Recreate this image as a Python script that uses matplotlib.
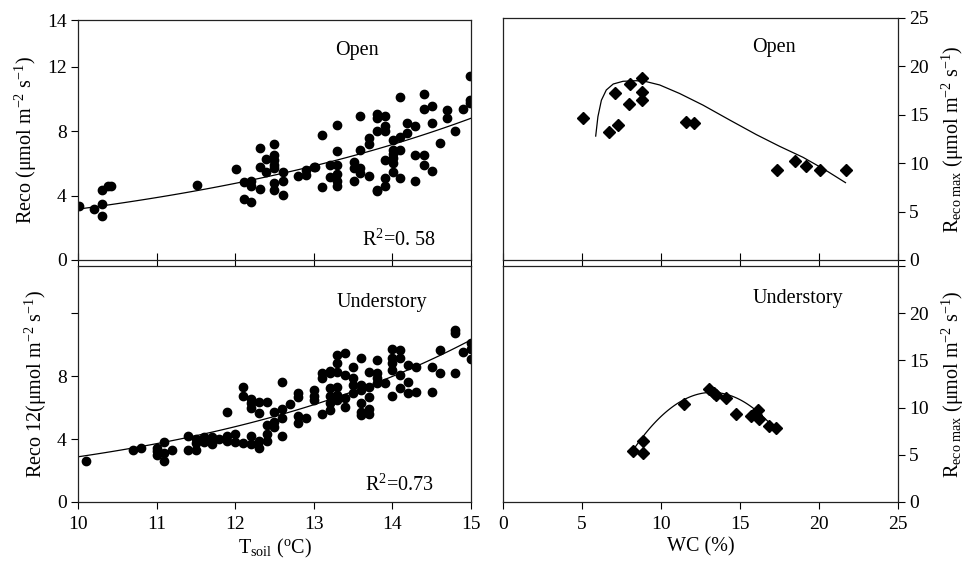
import numpy as np
import matplotlib
matplotlib.use("Agg")
import matplotlib.pyplot as plt

plt.rcParams["font.family"] = ["Liberation Serif", "DejaVu Serif"]
plt.rcParams["mathtext.fontset"] = "custom"
plt.rcParams["mathtext.rm"] = "Liberation Serif"
plt.rcParams["mathtext.it"] = "Liberation Serif:italic"
plt.rcParams["font.size"] = 14

# --- data ---
# open site, Reco vs Tsoil
open_t = [10.01, 10.2, 10.31, 10.31, 10.31, 10.38, 10.42, 11.51, 12.01, 12.11, 12.11, 12.2, 12.2, 12.2,
          12.31, 12.31, 12.31, 12.39, 12.39, 12.5, 12.5, 12.5, 12.5, 12.5, 12.5, 12.5, 12.61, 12.61, 12.61,
          12.8, 12.9, 12.9, 13.0, 13.02, 13.1, 13.1, 13.2, 13.2, 13.3, 13.3, 13.3, 13.3, 13.3, 13.3,
          13.51, 13.51, 13.51, 13.59, 13.59, 13.59, 13.59, 13.7, 13.7, 13.7, 13.8, 13.8, 13.8, 13.8, 13.81,
          13.9, 13.9, 13.9, 13.9, 13.9, 13.9, 14.01, 14.01, 14.01, 14.01, 14.01, 14.01, 14.1, 14.1, 14.1,
          14.1, 14.19, 14.19, 14.29, 14.29, 14.29, 14.4, 14.4, 14.4, 14.4, 14.5, 14.5, 14.5, 14.6, 14.7,
          14.7, 14.8, 14.9, 14.99, 14.99, 14.99]
open_r = [3.36, 3.18, 4.36, 3.49, 2.74, 4.57, 4.57, 4.65, 5.65, 4.84, 3.78, 3.59, 4.57, 4.88,
          6.98, 5.81, 4.40, 6.27, 5.46, 7.22, 6.54, 6.23, 5.92, 5.71, 4.77, 4.32, 5.50, 4.94, 4.05,
          5.25, 5.60, 5.29, 5.77, 5.77, 7.74, 4.53, 5.92, 5.13, 8.41, 6.75, 5.92, 5.34, 4.88, 4.63,
          6.08, 5.71, 4.94, 8.97, 6.85, 5.71, 5.40, 7.58, 7.22, 5.25, 9.09, 8.82, 7.99, 4.32, 4.28,
          8.97, 8.35, 7.99, 6.23, 5.09, 4.57, 7.47, 6.85, 6.60, 6.33, 6.02, 5.46, 10.11, 7.64, 6.85,
          5.09, 8.51, 7.89, 8.35, 6.54, 4.94, 10.32, 9.40, 6.54, 5.92, 9.59, 8.51, 5.54, 7.27, 9.34,
          8.82, 7.99, 9.40, 11.46, 9.96, 9.76]

# understory, Reco 12 vs Tsoil
und_t = [10.1, 10.7, 10.8, 11.0, 11.0, 11.0, 11.1, 11.1, 11.1, 11.2, 11.4, 11.4, 11.5, 11.5, 11.5,
         11.6, 11.6, 11.7, 11.7, 11.7, 11.8, 11.9, 11.9, 11.9, 12.0, 12.0, 12.1, 12.1, 12.1,
         12.2, 12.2, 12.2, 12.2, 12.2, 12.3, 12.3, 12.3, 12.3, 12.4, 12.4, 12.4, 12.4,
         12.5, 12.5, 12.5, 12.6, 12.6, 12.6, 12.6, 12.7, 12.8, 12.8, 12.8, 12.8, 12.9,
         13.0, 13.0, 13.0, 13.1, 13.1, 13.1, 13.2, 13.2, 13.2, 13.2, 13.2, 13.2,
         13.3, 13.3, 13.3, 13.3, 13.3, 13.3, 13.4, 13.4, 13.4, 13.4, 13.5, 13.5, 13.5, 13.5,
         13.6, 13.6, 13.6, 13.6, 13.6, 13.6, 13.7, 13.7, 13.7, 13.7, 13.7, 13.8, 13.8, 13.8, 13.8,
         13.9, 14.0, 14.0, 14.0, 14.0, 14.0, 14.1, 14.1, 14.1, 14.1, 14.2, 14.2, 14.2, 14.3, 14.3,
         14.5, 14.5, 14.6, 14.6, 14.8, 14.8, 14.8, 14.9, 15.0, 15.0, 15.0]
und_r = [2.59, 3.29, 3.44, 3.44, 3.23, 3.01, 3.82, 3.12, 2.59, 3.29, 4.20, 3.33, 4.03, 3.72, 3.29,
         4.14, 3.82, 4.14, 3.82, 3.67, 3.99, 5.73, 4.20, 3.89, 4.35, 3.78, 7.28, 6.73, 3.72,
         6.52, 6.26, 5.99, 4.20, 3.67, 6.37, 5.63, 3.89, 3.46, 6.37, 4.88, 4.35, 3.89,
         5.73, 5.10, 4.78, 7.64, 5.94, 5.31, 4.20, 6.20, 6.90, 6.69, 5.46, 5.03, 5.31,
         7.11, 6.73, 6.48, 8.22, 7.86, 5.56, 8.32, 8.17, 7.22, 6.73, 6.26, 5.84,
         9.34, 8.81, 8.28, 7.32, 6.79, 6.48, 9.45, 8.07, 6.58, 6.05, 8.60, 7.86, 7.43, 6.94,
         9.13, 7.43, 7.11, 6.31, 5.73, 5.52, 8.28, 7.32, 6.69, 5.94, 5.58, 9.02, 8.17, 7.86, 7.58,
         7.54, 9.70, 9.13, 8.81, 8.39, 6.73, 9.66, 9.13, 8.07, 7.22, 8.70, 7.64, 6.90, 8.56, 7.01,
         8.60, 7.01, 9.66, 8.17, 10.93, 10.72, 8.17, 9.55, 10.08, 9.72, 9.07]

# exponential fits y = a*exp(b*T)
open_fit = (0.407, 0.205)
und_fit = (0.2228, 0.2556)

# Reco max vs water content
open_wc = [5.04, 6.69, 7.12, 7.31, 7.97, 8.05, 8.79, 8.79, 8.79, 11.6, 12.1, 17.37, 18.5, 19.17, 20.04, 21.72]
open_rmax = [14.67, 13.23, 17.25, 13.92, 16.08, 18.21, 18.83, 17.35, 16.56, 14.26, 14.16, 9.28, 10.21, 9.73, 9.28, 9.28]
open_curve_x = [5.87, 6.01, 6.23, 6.54, 6.98, 7.6, 8.44, 9.08, 9.92, 11.18, 12.66, 14.35, 16.04, 17.5, 19.0, 20.4, 21.68]
open_curve_y = [12.8, 14.8, 16.5, 17.56, 18.18, 18.46, 18.52, 18.42, 18.08, 17.2, 16.0, 14.46, 12.95, 11.75, 10.6, 9.3, 7.99]

und_wc = [8.24, 8.88, 8.88, 11.48, 13.03, 13.35, 13.5, 14.09, 14.72, 15.68, 16.14, 16.04, 16.2, 16.84, 17.27]
und_rmax = [5.40, 5.23, 6.49, 10.42, 12.0, 11.54, 11.3, 11.02, 9.30, 9.09, 9.72, 9.19, 8.84, 8.04, 7.79]
und_quad = (-31.32, 6.49, -0.2453)  # a + b*x + c*x^2
und_range = (8.24, 17.4)

fig = plt.figure(figsize=(9.65, 5.62), dpi=100)
ax1 = fig.add_axes([0.0808, 0.5374, 0.4073, 0.427])
ax2 = fig.add_axes([0.0808, 0.1068, 0.4073, 0.42])
ax3 = fig.add_axes([0.5212, 0.5374, 0.4093, 0.4306])
ax4 = fig.add_axes([0.5212, 0.1068, 0.4093, 0.42])

dot = dict(ls="none", marker="o", ms=6, color="black")
dia = dict(ls="none", marker="D", ms=6.5, color="black")
fs = 14.5

# top left
ax1.plot(open_t, open_r, **dot)
tt = np.linspace(10, 15, 100)
ax1.plot(tt, open_fit[0] * np.exp(open_fit[1] * tt), color="black", lw=0.9)
ax1.set_xlim(10, 15)
ax1.set_ylim(0, 14.92)
ax1.set_yticks([0, 4, 8, 12, 14.92], labels=["0", "4", "8", "12", "14"])
ax1.set_xticks([10, 11, 12, 13, 14, 15], labels=[])
ax1.set_ylabel(r"Reco ($\mathrm{\mu}$mol m$^{\mathrm{-2}}$ s$^{\mathrm{-1}}$)", fontsize=fs, labelpad=6)
ax1.text(0.71, 0.875, "Open", transform=ax1.transAxes, ha="center", va="center", fontsize=fs)
ax1.text(0.91, 0.083, r"R$^2$=0. 58", transform=ax1.transAxes, ha="right", va="center", fontsize=fs)

# bottom left
ax2.plot(und_t, und_r, **dot)
ax2.plot(tt, und_fit[0] * np.exp(und_fit[1] * tt), color="black", lw=0.9)
ax2.set_xlim(10, 15)
ax2.set_ylim(0, 15)
ax2.set_yticks([0, 4, 8, 12], labels=["0", "4", "8", ""])
ax2.set_xticks([10, 11, 12, 13, 14, 15])
ax2.set_ylabel(r"Reco 12($\mathrm{\mu}$mol m$^{\mathrm{-2}}$ s$^{\mathrm{-1}}$)", fontsize=fs, labelpad=6)
ax2.set_xlabel(r"T$_{\mathrm{soil}}$ ($^{\mathrm{o}}$C)", fontsize=fs, labelpad=3)
ax2.text(0.773, 0.847, "Understory", transform=ax2.transAxes, ha="center", va="center", fontsize=fs)
ax2.text(0.905, 0.072, r"R$^2$=0.73", transform=ax2.transAxes, ha="right", va="center", fontsize=fs)

# top right
ax3.plot(open_wc, open_rmax, **dia)
ax3.plot(open_curve_x, open_curve_y, color="black", lw=0.9)
ax3.set_xlim(0, 25)
ax3.set_ylim(0, 25)
ax3.set_xticks([0, 5, 10, 15, 20, 25], labels=[])
ax3.set_yticks([0, 5, 10, 15, 20, 25])
ax3.text(0.686, 0.876, "Open", transform=ax3.transAxes, ha="center", va="center", fontsize=fs)

# bottom right
ax4.plot(und_wc, und_rmax, **dia)
ww = np.linspace(und_range[0], und_range[1], 100)
ax4.plot(ww, und_quad[0] + und_quad[1] * ww + und_quad[2] * ww ** 2, color="black", lw=0.9)
ax4.set_xlim(0, 25)
ax4.set_ylim(0, 25)
ax4.set_xticks([0, 5, 10, 15, 20, 25])
ax4.set_yticks([0, 5, 10, 15, 20, 25], labels=["0", "5", "10", "15", "20", ""])
ax4.set_xlabel("WC (%)", fontsize=fs, labelpad=3)
ax4.text(0.747, 0.864, "Understory", transform=ax4.transAxes, ha="center", va="center", fontsize=fs)

rlabel = r"R$_{\mathrm{eco\ max}}$ ($\mathrm{\mu}$mol m$^{\mathrm{-2}}$ s$^{\mathrm{-1}}$)"
for ax in (ax3, ax4):
    ax.yaxis.tick_right()
    ax.yaxis.set_label_position("right")
    ax.set_ylabel(rlabel, fontsize=fs, labelpad=8)

for ax in (ax1, ax2, ax3, ax4):
    for s in ax.spines.values():
        s.set_linewidth(0.9)
        s.set_color("#222222")
    ax.tick_params(axis="y", direction="out", length=5, width=0.8, labelsize=14, pad=3)
for ax in (ax1, ax3):
    ax.tick_params(axis="x", direction="inout", length=10, width=0.8)
for ax in (ax2, ax4):
    ax.tick_params(axis="x", direction="out", length=5, width=0.8, labelsize=14, pad=5)

fig.savefig("out.png", dpi=100)
